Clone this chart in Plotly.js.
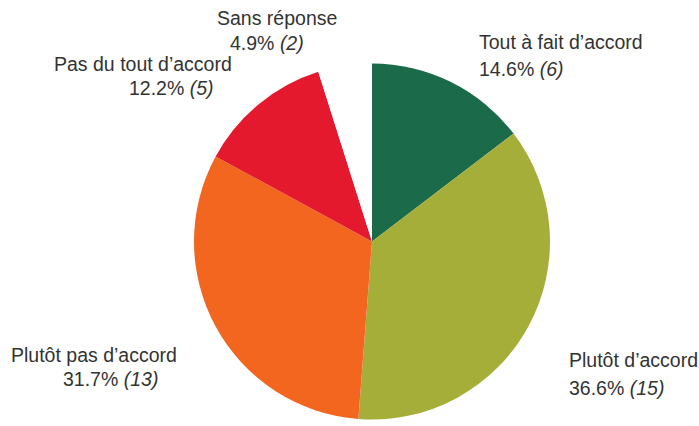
<!DOCTYPE html>
<html>
<head>
<meta charset="utf-8">
<script src="https://cdn.plot.ly/plotly-3.0.1.min.js"></script>
<style>html,body{margin:0;padding:0;background:#fff;}#chart{width:699px;height:426px;}</style>
</head>
<body>
<div id="chart"></div>
<script>
// Data
var categories = ["Tout à fait d’accord", "Plutôt d’accord", "Plutôt pas d’accord", "Pas du tout d’accord", "Sans réponse"];
var counts = [6, 15, 13, 5, 2];
var sliceColors = ["#1b6a4a", "#a6ae3a", "#f2661f", "#e5192e", "#ffffff"];

// Label placement (pixels in the 699x426 page): [line1 x, line1 y, line2 x, line2 y, anchor]
var labelPos = [
  [477, 42, 477, 69, "left"],
  [567, 360, 567, 388, "left"],
  [94, 355, 110, 379, "center"],
  [143, 64, 171, 88, "center"],
  [277, 18, 267, 43, "center"]
];

var W = 699, H = 426;
var total = counts.reduce(function(a, b) { return a + b; }, 0);

var trace = {
  type: "pie",
  values: counts,
  labels: categories,
  sort: false,
  direction: "clockwise",
  rotation: 0,
  textinfo: "none",
  hoverinfo: "label+percent",
  marker: { colors: sliceColors, line: { width: 0 } },
  domain: { x: [194 / W, 550 / W], y: [1 - 420 / H, 1 - 63 / H] },
  showlegend: false
};

var annotations = [];
categories.forEach(function(cat, i) {
  var p = labelPos[i];
  var pct = (counts[i] / total * 100).toFixed(1);
  var font = { family: "Liberation Sans, Arial, sans-serif", size: 19.5, color: "#333333" };
  annotations.push({
    xref: "paper", yref: "paper", x: p[0] / W, y: 1 - p[1] / H,
    xanchor: p[4], yanchor: "middle", showarrow: false, align: p[4],
    text: cat, font: font
  });
  annotations.push({
    xref: "paper", yref: "paper", x: p[2] / W, y: 1 - p[3] / H,
    xanchor: p[4], yanchor: "middle", showarrow: false, align: p[4],
    text: pct + "% <i>(" + counts[i] + ")</i>", font: font
  });
});

var layout = {
  width: W, height: H,
  margin: { l: 0, r: 0, t: 0, b: 0 },
  paper_bgcolor: "#ffffff",
  plot_bgcolor: "#ffffff",
  annotations: annotations
};

Plotly.newPlot("chart", [trace], layout, { displayModeBar: false, staticPlot: true });
</script>
</body>
</html>
